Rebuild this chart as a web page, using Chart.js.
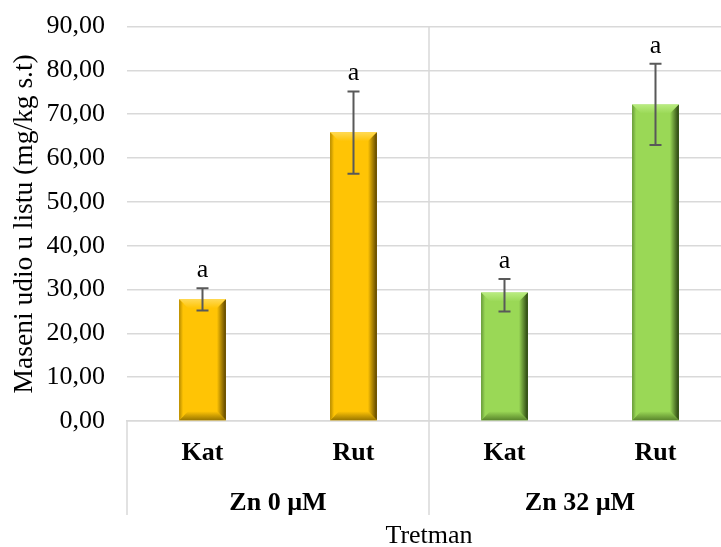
<!DOCTYPE html>
<html>
<head>
<meta charset="utf-8">
<script src="https://cdn.jsdelivr.net/npm/chart.js@4/dist/chart.umd.min.js"></script>
<style>
html,body{margin:0;padding:0;overflow:hidden;background:#fff;}
#wrap{width:740px;height:547px;position:relative;}
</style>
</head>
<body>
<div id="wrap"><canvas id="c"></canvas></div>
<script>
const categories = ["Kat", "Rut", "Kat", "Rut"];
const groups = ["Zn 0 µM", "Zn 32 µM"];
const means = [27.8, 65.9, 29.3, 72.2];
const errLow = [25.2, 56.4, 25.0, 63.0];
const errHigh = [30.3, 75.2, 32.4, 81.5];
const letters = ["a", "a", "a", "a"];
const yTicks = [0, 10, 20, 30, 40, 50, 60, 70, 80, 90];

const FONT = "'Liberation Serif', 'Times New Roman', serif";
const FS = 26;
const faceColors = ["#FFC405", "#FFC405", "#9AD856", "#9AD856"];
const palette = {
  "#FFC405": {light: "#FFDA55", dark: "#5A4300", bottom: "#9A7700", left: "#B58A00"},
  "#9AD856": {light: "#B9EC80", dark: "#27400E", bottom: "#5A862C", left: "#67993A"}
};

const bevelPlugin = {
  id: "bevel",
  afterDatasetsDraw(chart) {
    const ctx = chart.ctx;
    const meta = chart.getDatasetMeta(0);
    meta.data.forEach((bar, i) => {
      const p = palette[faceColors[i]];
      const w = bar.width, l = bar.x - w / 2, r = bar.x + w / 2, t = bar.y, b = bar.base;
      const bv = 9;
      ctx.save();
      let g = ctx.createLinearGradient(0, t, 0, t + bv);
      g.addColorStop(0, p.light); g.addColorStop(1, faceColors[i]);
      ctx.fillStyle = g;
      ctx.beginPath(); ctx.moveTo(l, t); ctx.lineTo(r, t); ctx.lineTo(r - bv, t + bv); ctx.lineTo(l + bv, t + bv); ctx.closePath(); ctx.fill();
      g = ctx.createLinearGradient(r - bv, 0, r, 0);
      g.addColorStop(0, faceColors[i]); g.addColorStop(1, p.dark);
      ctx.fillStyle = g;
      ctx.beginPath(); ctx.moveTo(r, t); ctx.lineTo(r, b); ctx.lineTo(r - bv, b - bv); ctx.lineTo(r - bv, t + bv); ctx.closePath(); ctx.fill();
      g = ctx.createLinearGradient(0, b - bv, 0, b);
      g.addColorStop(0, faceColors[i]); g.addColorStop(1, p.bottom);
      ctx.fillStyle = g;
      ctx.beginPath(); ctx.moveTo(l, b); ctx.lineTo(r, b); ctx.lineTo(r - bv, b - bv); ctx.lineTo(l + bv, b - bv); ctx.closePath(); ctx.fill();
      g = ctx.createLinearGradient(l, 0, l + 4, 0);
      g.addColorStop(0, p.left); g.addColorStop(1, faceColors[i]);
      ctx.fillStyle = g;
      ctx.beginPath(); ctx.moveTo(l, t); ctx.lineTo(l, b); ctx.lineTo(l + 4, b - 4); ctx.lineTo(l + 4, t + 4); ctx.closePath(); ctx.fill();
      ctx.restore();
    });
    const y = chart.scales.y;
    ctx.save();
    ctx.strokeStyle = "#595959";
    ctx.lineWidth = 2;
    meta.data.forEach((bar, i) => {
      const x = bar.x;
      const yh = y.getPixelForValue(errHigh[i]);
      const yl = y.getPixelForValue(errLow[i]);
      ctx.beginPath();
      ctx.moveTo(x, yh); ctx.lineTo(x, yl);
      ctx.moveTo(x - 6, yh); ctx.lineTo(x + 6, yh);
      ctx.moveTo(x - 6, yl); ctx.lineTo(x + 6, yl);
      ctx.stroke();
      ctx.fillStyle = "#000";
      ctx.font = FS + "px " + FONT;
      ctx.textAlign = "center";
      ctx.textBaseline = "alphabetic";
      ctx.fillText(letters[i], x, yh - 11);
    });
    ctx.restore();
  },
  afterDraw(chart) {
    const ctx = chart.ctx;
    const a = chart.chartArea;
    const xs = chart.scales.x;
    const mid = (xs.getPixelForValue(1) + xs.getPixelForValue(2)) / 2;
    const endY = a.bottom + 94;
    ctx.save();
    ctx.strokeStyle = "#D9D9D9";
    ctx.lineWidth = 1.5;
    ctx.beginPath();
    ctx.moveTo(a.left, a.bottom); ctx.lineTo(a.left, endY);
    ctx.moveTo(mid, a.top); ctx.lineTo(mid, endY);
    ctx.moveTo(a.right, a.top); ctx.lineTo(a.right, endY);
    ctx.stroke();
    ctx.restore();
  }
};

new Chart(document.getElementById("c"), {
  type: "bar",
  data: {
    labels: categories,
    datasets: [{
      data: means,
      backgroundColor: faceColors,
      borderWidth: 0,
      barPercentage: 0.31,
      categoryPercentage: 1.0
    }]
  },
  options: {
    responsive: true,
    maintainAspectRatio: false,
    animation: false,
    layout: {padding: {top: 0, right: 9, left: 0, bottom: 0}},
    plugins: {legend: {display: false}, tooltip: {enabled: false}},
    scales: {
      x: {
        position: "bottom",
        afterFit: (s) => { s.height = 67; },
        grid: {display: false, drawTicks: false},
        border: {display: true, color: "#D9D9D9", width: 1.5},
        ticks: {color: "#000", font: {family: FONT, size: FS, weight: "bold"}, padding: 17}
      },
      x2: {
        type: "category",
        position: "bottom",
        labels: groups,
        offset: true,
        afterFit: (s) => { s.height = 59; },
        grid: {display: false, drawTicks: false},
        border: {display: false},
        ticks: {color: "#000", font: {family: FONT, size: FS, weight: "bold"}, padding: 0},
        title: {display: true, text: "Tretman", color: "#000", font: {family: FONT, size: FS, lineHeight: 0.8}, padding: {top: 0, bottom: 0}}
      },
      y: {
        min: 0, max: 90,
        afterBuildTicks: (s) => { s.ticks = yTicks.map(v => ({value: v})); },
        afterFit: (s) => { s.width = 127; },
        grid: {color: "#D9D9D9", lineWidth: 1.5, drawTicks: true, tickLength: 11, tickColor: "rgba(0,0,0,0)"},
        border: {display: false},
        ticks: {
          color: "#000",
          font: {family: FONT, size: FS},
          padding: 11,
          callback: (v) => Number(v).toFixed(2).replace(".", ",")
        },
        title: {display: true, text: "Maseni udio u listu (mg/kg s.t)", color: "#000", font: {family: FONT, size: 27.5}, padding: {top: 8, bottom: 0}}
      }
    }
  },
  plugins: [bevelPlugin]
});
</script>
</body>
</html>
